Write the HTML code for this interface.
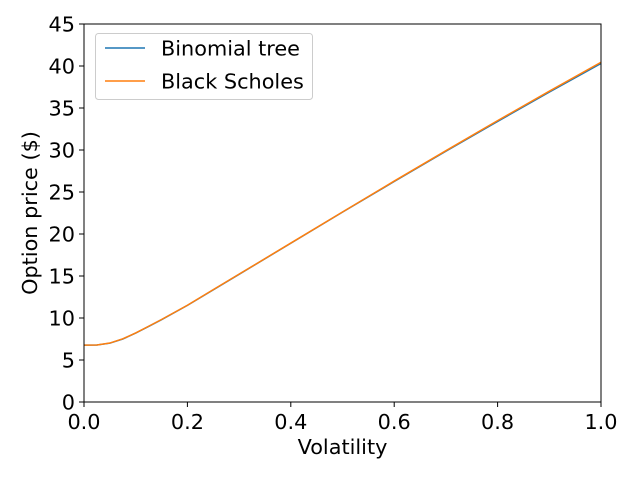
<!DOCTYPE html>
<html><head><meta charset="utf-8"><style>
body{margin:0;background:#fff;}
svg{font-family:"DejaVu Sans","Liberation Sans",sans-serif;}
</style></head><body>
<svg width="640" height="480">
<g id="plot"></g>
</svg>
<script>
const vols=[0,0.025,0.05,0.075,0.1,0.125,0.15,0.2,0.25,0.3,0.4,0.5,0.6,0.7,0.8,0.9,1.0];
const binomial=[6.77,6.78,7.0,7.5,8.2,9.0,9.8,11.5,13.35,15.2,18.9,22.6,26.25,29.85,33.4,36.9,40.3];
const blackScholes=[6.77,6.78,7.02,7.52,8.22,9.02,9.82,11.52,13.38,15.22,18.92,22.62,26.3,29.92,33.5,37.0,40.45];
const xTicks=[0,0.2,0.4,0.6,0.8,1.0];
const xTickLabels=["0.0","0.2","0.4","0.6","0.8","1.0"];
const yTicks=[0,5,10,15,20,25,30,35,40,45];
const L=84,R=601,T=24,B=402;
const FS=20.8;
const xs=v=>L+(v-0)/(1-0)*(R-L);
const ys=v=>B-(v-0)/(45-0)*(B-T);
const g=document.getElementById('plot');
const NS='http://www.w3.org/2000/svg';
function mk(t,a,p){const e=document.createElementNS(NS,t);for(const k in a)e.setAttribute(k,a[k]);(p||g).appendChild(e);return e;}
function line(arr,color,name){
 const d=arr.map((v,i)=>(i?'L':'M')+xs(vols[i]).toFixed(2)+','+ys(v).toFixed(2)).join(' ');
 const p=mk('path',{d:d,fill:'none',stroke:color,'stroke-width':1.5});
 
 
}
line(binomial,'#1f77b4','binomial-tree-line');
line(blackScholes,'#ff7f0e','black-scholes-line');
const frame=mk('rect',{x:L,y:T,width:R-L,height:B-T,fill:'none',stroke:'#000','stroke-width':1});


xTicks.forEach((v,i)=>{
 const x=xs(v);
 mk('line',{x1:x,x2:x,y1:B,y2:B+5,stroke:'#000'});
 const t=mk('text',{x:x,y:B+27,'text-anchor':'middle','font-size':FS});
 t.textContent=xTickLabels[i];
 
 
});
yTicks.forEach(v=>{
 const y=ys(v);
 mk('line',{x1:L-5,x2:L,y1:y,y2:y,stroke:'#000'});
 const t=mk('text',{x:L-9,y:y+7.5,'text-anchor':'end','font-size':FS});
 t.textContent=v;
 
 
});
const xt=mk('text',{x:(L+R)/2,y:454,'text-anchor':'middle','font-size':FS});
xt.textContent='Volatility';


const yt=mk('text',{x:0,y:0,'text-anchor':'middle','font-size':FS,transform:'translate(37,213) rotate(-90)'});
yt.textContent='Option price ($)';


const lg=mk('g',{});


mk('rect',{x:95.5,y:33.5,width:217,height:66,rx:3,fill:'#fff','fill-opacity':0.8,stroke:'#ccc'},lg);
[['Binomial tree','#1f77b4',48],['Black Scholes','#ff7f0e',81]].forEach(([n,c,y])=>{
 mk('line',{x1:105,x2:145,y1:y,y2:y,stroke:c,'stroke-width':1.5},lg);
 const t=mk('text',{x:161,y:y+7.5,'font-size':FS},lg);
 t.textContent=n;
 
 
});
</script>
</body></html>
